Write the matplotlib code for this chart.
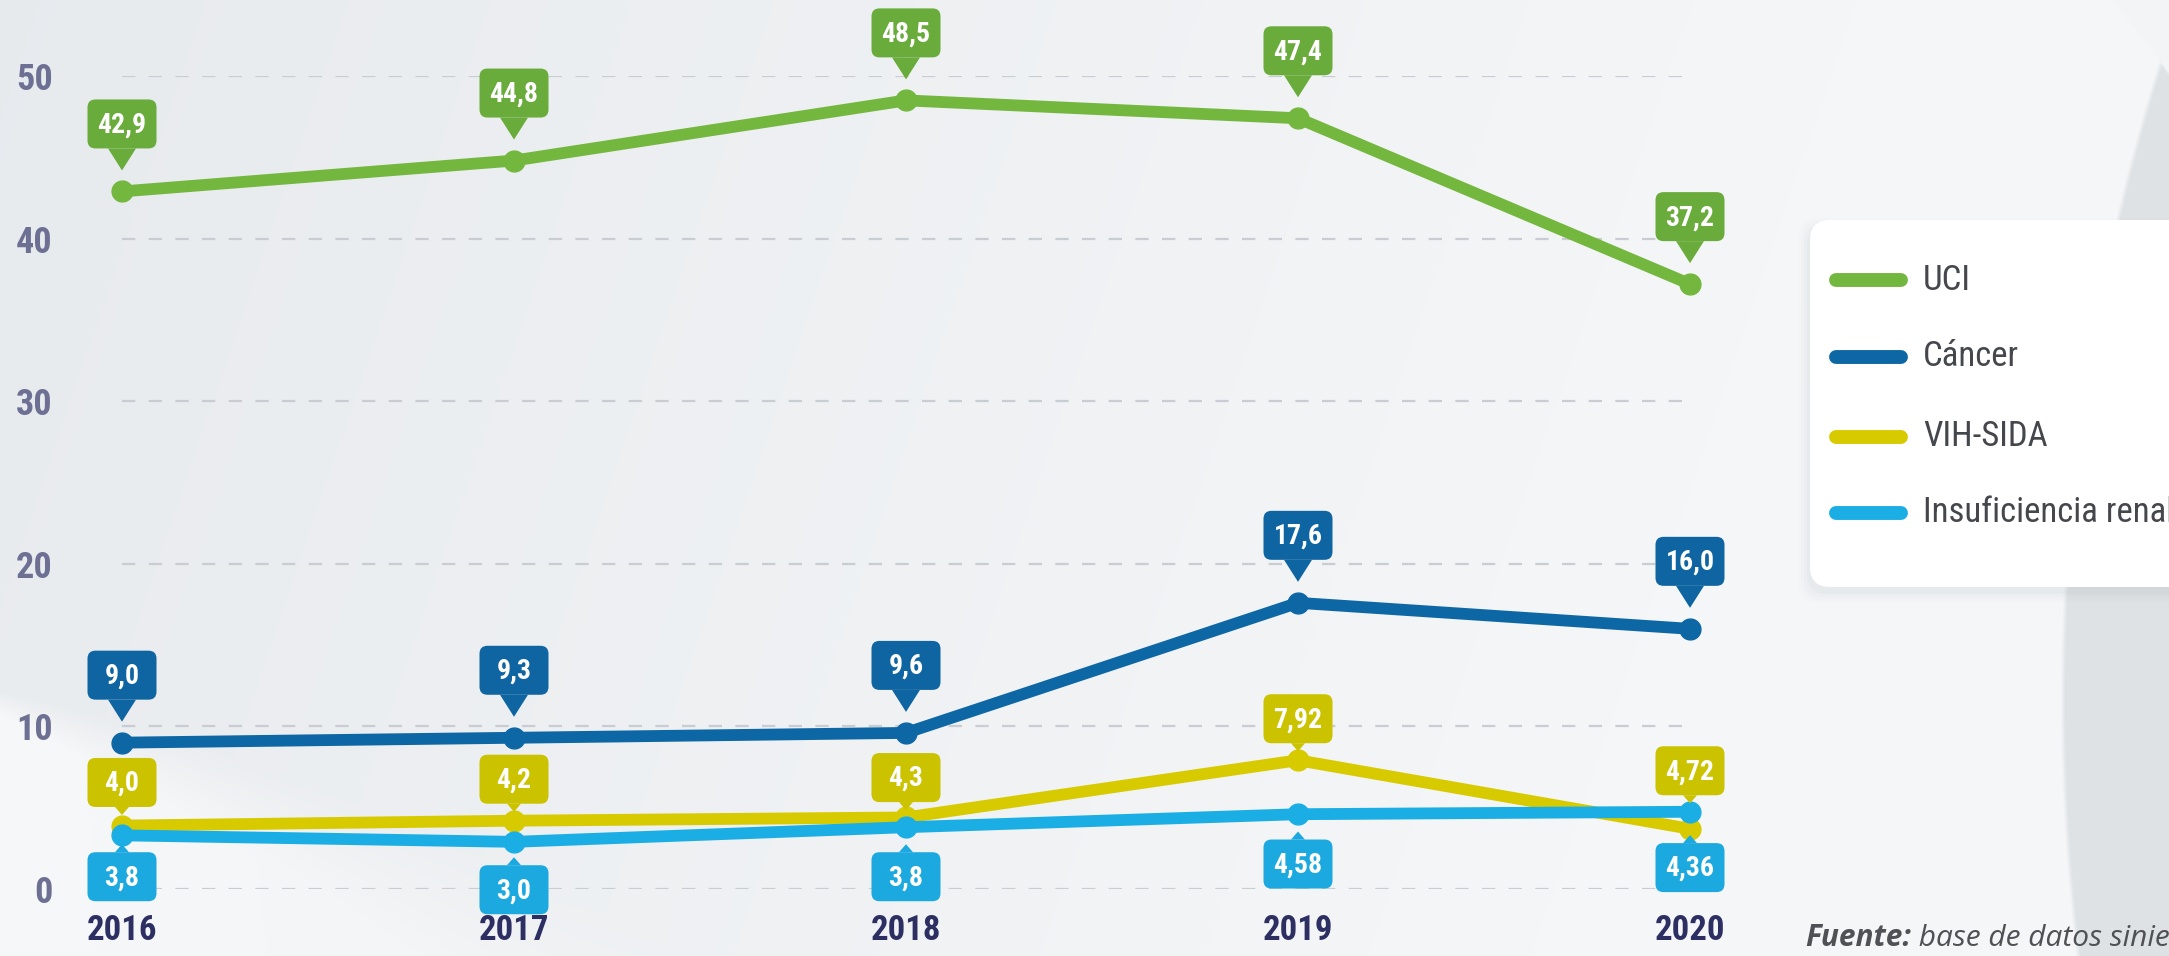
import numpy as np
import matplotlib
matplotlib.use("Agg")
import matplotlib.pyplot as plt
from matplotlib.patches import FancyBboxPatch, Polygon
from matplotlib.lines import Line2D
from matplotlib.transforms import IdentityTransform
from matplotlib import font_manager as fm

# ---------------- data ----------------
years = [2016, 2017, 2018, 2019, 2020]
series_names = ["UCI", "Cáncer", "VIH-SIDA", "Insuficiencia renal"]
uci_values = [42.9, 44.8, 48.5, 47.4, 37.2]
cancer_values = [9.0, 9.3, 9.6, 17.6, 16.0]
vih_values = [3.9, 4.2, 4.4, 7.92, 3.7]        # as drawn in the chart
renal_values = [3.3, 2.9, 3.8, 4.6, 4.75]      # as drawn in the chart
uci_labels = ["42,9", "44,8", "48,5", "47,4", "37,2"]
cancer_labels = ["9,0", "9,3", "9,6", "17,6", "16,0"]
vih_labels = ["4,0", "4,2", "4,3", "7,92", "4,72"]
renal_labels = ["3,8", "3,0", "3,8", "4,58", "4,36"]
y_ticks = [0, 10, 20, 30, 40, 50]
source_bold = "Fuente:"
source_text = " base de datos siniestros"

# ---------------- fonts ----------------
avail = {f.name for f in fm.fontManager.ttflist}
cond = None
for name in ["Roboto Condensed", "Liberation Sans Narrow", "DejaVu Sans Condensed", "Roboto"]:
    if name in avail:
        cond = name
        break
if cond is None:
    cond = "DejaVu Sans"
leg_font = cond
src_font = "Open Sans" if "Open Sans" in avail else "DejaVu Sans"

W, H = 2169, 956
fig = plt.figure(figsize=(W / 100, H / 100), dpi=100)

# ---------------- background ----------------
bg_ax = fig.add_axes([0, 0, 1, 1], zorder=-10)
yy, xx = np.mgrid[0:H, 0:W].astype(float)
c_dark = np.array([0.902, 0.915, 0.928])
c_light = np.array([0.962, 0.967, 0.973])
t = np.clip(0.1 + (xx / W) * 1.0 + (yy / H) * 0.15, 0, 1)
img = c_dark[None, None, :] * (1 - t[..., None]) + c_light[None, None, :] * t[..., None]
# bottom-left light sweep
curve = 690 + 0.25 * xx + 0.0002 * xx ** 2
soft = 25 + 0.25 * xx
m = np.clip((yy - curve) / soft, 0, 1) * np.clip(1 - xx / 1400, 0, 1)
white = np.array([0.972, 0.976, 0.980])
img = img * (1 - 0.9 * m[..., None]) + white * 0.9 * m[..., None]
# right gray crescent
d = np.sqrt((xx - 4190) ** 2 + (yy - 700) ** 2)
m2 = np.clip((2130 - d) / 5.0, 0, 1)
img = img * (1 - m2[..., None]) + np.array([0.872, 0.888, 0.900]) * m2[..., None]
# top-right light wedge
m3 = np.clip(((xx - 2110) * 1.3 - yy) / 5.0, 0, 1)
img = img * (1 - m3[..., None]) + np.array([0.955, 0.960, 0.966]) * m3[..., None]
bg_ax.imshow(img, extent=[0, 1, 0, 1], aspect="auto", origin="upper")
bg_ax.set_axis_off()

# ---------------- main axes ----------------
x0, x1 = 122, 1690
y0_pix, y50_pix = 889, 76
ax = fig.add_axes([x0 / W, (H - y0_pix) / H, (x1 - x0) / W, (y0_pix - y50_pix) / H])
ax.set_facecolor("none")
ax.set_xlim(2016, 2020)
ax.set_ylim(0, 50)
for s in ax.spines.values():
    s.set_visible(False)
ax.set_yticks(y_ticks)
ax.set_yticklabels([str(v) for v in y_ticks])
ax.set_xticks(years)
ax.set_xticklabels([str(y) for y in years])
ax.tick_params(axis="both", length=0)
ax.tick_params(axis="y", pad=50, labelsize=26, labelcolor="#6d7093")
ax.tick_params(axis="x", pad=18, labelsize=25, labelcolor="#2d2f63")
for lab in ax.get_yticklabels():
    lab.set_fontfamily(cond)
    lab.set_fontweight("bold")
for lab in ax.get_xticklabels():
    lab.set_fontfamily(cond)
    lab.set_fontweight("bold")
for v in y_ticks:
    ax.axhline(v, color="#c9cdd3", lw=1.6, ls=(0, (6, 6)), zorder=1)

colors = ["#74b73e", "#0d67a5", "#d7cb00", "#1aaee5"]
box_colors = ["#6aac3b", "#0f65a1", "#cbc200", "#1ba9e0"]
values = [uci_values, cancer_values, vih_values, renal_values]
labels = [uci_labels, cancer_labels, vih_labels, renal_labels]

for i, (vals, col) in enumerate(zip(values, colors)):
    ax.plot(years, vals, color=col, lw=8.5, marker="o", ms=15, mec=col, mfc=col,
            solid_capstyle="round", solid_joinstyle="round", clip_on=False, zorder=3 + i)

# ---------------- callouts ----------------
ident = IdentityTransform()
BW, BH, R = 69, 49, 8


def callout(xd, yd, text, color, kind):
    px, py = ax.transData.transform((xd, yd))
    if kind == "big":          # box above, long pointer
        tip = py + 21
        base = tip + 22
        half = 14
        by = base
    elif kind == "small_up":   # box above, small pointer
        tip = py + 9
        base = tip + 8
        half = 7
        by = base
    else:                      # box below, small pointer
        tip = py - 17
        base = tip - 8
        half = 7
        by = base - BH
    box = FancyBboxPatch((px - BW / 2 + R, by + R), BW - 2 * R, BH - 2 * R,
                         boxstyle=f"round,pad={R}", fc=color, ec="none",
                         transform=ident, zorder=10)
    fig.add_artist(box)
    tri = Polygon([[px - half, base], [px + half, base], [px, tip]], closed=True,
                  fc=color, ec="none", transform=ident, zorder=10)
    fig.add_artist(tri)
    fig.text(px, by + BH / 2 - 1, text, transform=ident, ha="center", va="center",
             color="white", fontsize=20, fontweight="bold", family=cond, zorder=11)


kinds = ["big", "big", "small_up", "small_down"]
for lab_list, bc, kind in zip(labels, box_colors, kinds):
    for xv, lab in zip(years, lab_list):
        callout(xv, float(lab.replace(",", ".")), lab, bc, kind)

# ---------------- legend ----------------
lx, ly_top, lw_, lh = 1810, 220, 420, 367
for k, a in enumerate([0.03, 0.022, 0.015, 0.01]):
    sh = FancyBboxPatch((lx + 20 - 3 - 3 * k, H - ly_top - lh + 20 - 7 - 3 * k), lw_ - 40 + 6 * k, lh - 40 + 6 * k,
                        boxstyle="round,pad=20", fc="#6b7380", ec="none", alpha=a,
                        transform=ident, zorder=8)
    fig.add_artist(sh)
leg = FancyBboxPatch((lx + 20, H - ly_top - lh + 20), lw_ - 40, lh - 40,
                     boxstyle="round,pad=20", fc="white", ec="none",
                     transform=ident, zorder=9)
fig.add_artist(leg)
entry_y = [280, 357, 437, 513]
for name, col, ey in zip(series_names, colors, entry_y):
    ypx = H - ey
    fig.add_artist(Line2D([1836, 1901], [ypx, ypx], color=col, lw=10,
                          solid_capstyle="round", transform=ident, zorder=10))
    fig.text(1923, ypx, name, transform=ident, ha="left", va="center",
             fontsize=25, color="#45474c", family=leg_font, zorder=11)

# ---------------- source ----------------
t1 = fig.text(1805, H - 938, source_bold, transform=ident, ha="left", va="center",
              fontsize=21.5, color="#4f5155", family=src_font, fontweight="bold",
              style="italic", zorder=11)
fig.canvas.draw()
bb = t1.get_window_extent()
fig.text(bb.x1, H - 938, source_text, transform=ident, ha="left", va="center",
         fontsize=21.5, color="#4f5155", family=src_font, style="italic", zorder=11)

fig.savefig("out.png", dpi=100)
